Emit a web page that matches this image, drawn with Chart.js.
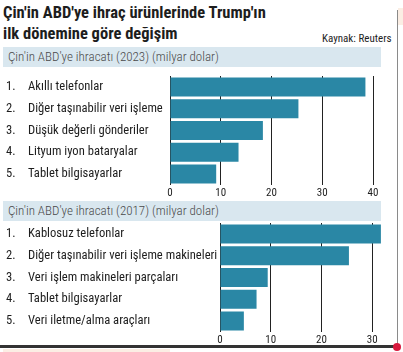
<!DOCTYPE html>
<html>
<head>
<meta charset="utf-8">
<script src="https://cdn.jsdelivr.net/npm/chart.js@4"></script>
<style>
  body { margin: 0; width: 403px; height: 352px; position: relative; overflow: hidden; background: #fff;
         font-family: "Roboto Condensed", sans-serif; color: #1d1d1d; }
  .title { position: absolute; left: 3px; top: 2px; font-weight: bold; font-size: 16.5px; line-height: 21px; }
  .source { position: absolute; left: 322px; top: 32px; font-size: 11px; }
  .band { position: absolute; left: 3px; width: 378px; height: 20px; background: #d9e7ef;
          font-size: 13px; font-weight: 300; color: #4a4a4a; line-height: 20px; padding-left: 5px; box-sizing: border-box; }
  .frame { position: absolute; left: 397px; top: 10px; width: 1px; height: 336px; background: #8a8a8a; }
  .peach { position: absolute; background: #fbeee4; }
  .rule { position: absolute; left: 0; top: 345px; width: 397px; height: 3px; background: #333; }
  .dot { position: absolute; left: 393px; top: 343px; width: 8px; height: 8px; border-radius: 50%; background: #d7193d; }
  canvas { position: absolute; left: 0; }
</style>
</head>
<body>
<div class="peach" style="left:398px;top:8px;width:5px;height:17px"></div>
<div class="peach" style="left:3px;top:349px;width:167px;height:3px"></div>
<div class="frame"></div>
<div class="title">Çin'in ABD'ye ihraç ürünlerinde Trump'ın<br>ilk dönemine göre değişim</div>
<div class="source">Kaynak: Reuters</div>
<div class="band" style="top:47px">Çin'in ABD'ye ihracatı (2023) (milyar dolar)</div>
<div class="band" style="top:201px">Çin'in ABD'ye ihracatı (2017) (milyar dolar)</div>
<div style="position:absolute;left:0;top:70px;width:403px;height:128px"><canvas id="chart-2023"></canvas></div>
<div style="position:absolute;left:0;top:221px;width:403px;height:124px"><canvas id="chart-2017"></canvas></div>
<div class="rule"></div>
<div class="dot"></div>
<script>
const ranks = ["1.", "2.", "3.", "4.", "5."];

const labels2023 = ["Akıllı telefonlar", "Diğer taşınabilir veri işleme", "Düşük değerli gönderiler",
  "Lityum iyon bataryalar", "Tablet bilgisayarlar"];
const values2023 = [38.5, 25.3, 18.3, 13.5, 9.1];
const ticks2023 = [0, 10, 20, 30, 40];

const labels2017 = ["Kablosuz telefonlar", "Diğer taşınabilir veri işleme makineleri",
  "Veri işlem makineleri parçaları", "Tablet bilgisayarlar", "Veri iletme/alma araçları"];
const values2017 = [31.7, 25.4, 9.4, 7.2, 4.7];
const ticks2017 = [0, 10, 20, 30];

const BAR = "#2a87a5";
const INK = "#1d1d1d";
const FONT = "Roboto Condensed";
const LABEL_SIZE = 12.6;

// Rank numbers sit in their own column left of the category names.
const rankColumn = {
  id: "rankColumn",
  afterDraw(chart) {
    const { ctx, scales } = chart;
    ctx.save();
    ctx.fillStyle = INK;
    ctx.font = `${LABEL_SIZE}px "${FONT}"`;
    ctx.textBaseline = "middle";
    ranks.forEach((r, i) => ctx.fillText(r, 6, scales.y.getPixelForValue(i)));
    ctx.restore();
  },
};

// areaLeft pins the plot box; both panels share one px-per-billion scale.
function drawPanel(id, labels, values, ticks, max, areaLeft, padTop, axisHeight) {
  return new Chart(document.getElementById(id), {
    type: "bar",
    data: {
      labels,
      datasets: [{ data: values, backgroundColor: BAR, borderWidth: 0,
                   barPercentage: 0.87, categoryPercentage: 1 }],
    },
    options: {
      indexAxis: "y",
      responsive: true,
      maintainAspectRatio: false,
      animation: false,
      layout: { padding: { left: 28, right: 403 - (areaLeft + max * 5.076), top: padTop, bottom: 0 } },
      plugins: { legend: { display: false }, tooltip: { enabled: false } },
      scales: {
        x: {
          min: 0, max,
          afterBuildTicks: (s) => { s.ticks = ticks.map((v) => ({ value: v })); },
          afterFit: (s) => { s.height = axisHeight; },
          grid: { color: "#222", lineWidth: 1, drawTicks: false },
          border: { display: false },
          ticks: { color: INK, font: { family: FONT, size: 11 }, padding: 2, maxRotation: 0 },
        },
        y: {
          // drop the half-label margins Chart.js reserves, so the bars start right under the band
          afterFit: (s) => { s.width = areaLeft - 28; s.paddingTop = 0; s.paddingBottom = 0; },
          grid: { display: false },
          border: { display: false },
          ticks: { color: INK, font: { family: FONT, size: LABEL_SIZE }, crossAlign: "far", padding: 0 },
        },
      },
    },
    plugins: [rankColumn],
  });
}

drawPanel("chart-2023", labels2023, values2023, ticks2023, 40, 170, 6, 13);
drawPanel("chart-2017", labels2017, values2017, ticks2017, 32, 220, 2, 13);
</script>
</body>
</html>
